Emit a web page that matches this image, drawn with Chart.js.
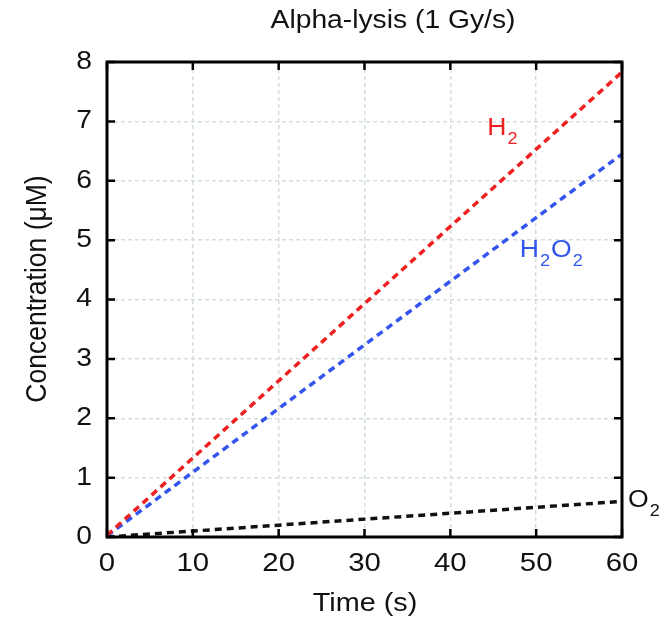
<!DOCTYPE html>
<html>
<head>
<meta charset="utf-8">
<script src="https://cdn.jsdelivr.net/npm/chart.js@4"></script>
<style>
  html, body { margin: 0; padding: 0; background: #fff; }
  #wrap { width: 662px; height: 618px; }
</style>
</head>
<body>
<div id="wrap"><canvas id="chart" width="662" height="618"></canvas></div>
<script>
// --- Data ---
const titleText = 'Alpha-lysis (1 Gy/s)';
const xTitle = 'Time (s)';
const yTitle = 'Concentration (\u03BCM)';
const timeSec = [0, 60];
const h2Values = [0.03, 7.83];
const h2o2Values = [0.02, 6.45];
const o2Values = [0, 0.6];
const xTicks = [0, 10, 20, 30, 40, 50, 60];
const yTicks = [0, 1, 2, 3, 4, 5, 6, 7, 8];

// labels on the plot: [main, sub, main, sub...], position in data units
const seriesLabels = [
  { parts: ['H', '2'], x: 44.3, y: 6.88, color: '#ee2020' },
  { parts: ['H', '2', 'O', '2'], x: 48.1, y: 4.83, color: '#3355ee' },
  { parts: ['O', '2'], x: 60.7, y: 0.62, color: '#111111' }
];

const FONT = "'Liberation Sans', Arial, Helvetica, sans-serif";
const STRETCH = 1.13; // text in the source figure is a bit wide

function toPoints(values) {
  return timeSec.map((t, i) => ({ x: t, y: values[i] }));
}

// draw text widened horizontally, anchored at (x, y)
function wideText(ctx, text, x, y, size, align, rot) {
  ctx.save();
  ctx.translate(x, y);
  if (rot) ctx.rotate(rot);
  ctx.scale(rot ? 1 : STRETCH, rot ? STRETCH : 1);
  ctx.font = size + 'px ' + FONT;
  ctx.textAlign = align;
  ctx.textBaseline = 'middle';
  ctx.fillText(text, 0, 0);
  ctx.restore();
}

// --- Plugin: frame, inward ticks, texts, subscript labels ---
const decorations = {
  id: 'decorations',
  afterDraw(chart) {
    const ctx = chart.ctx;
    const xs = chart.scales.x;
    const ys = chart.scales.y;
    const a = chart.chartArea;
    const tick = 8;

    ctx.save();
    ctx.strokeStyle = '#000';
    ctx.lineWidth = 3;
    ctx.strokeRect(a.left, a.top, a.right - a.left, a.bottom - a.top);

    ctx.lineWidth = 2.5;
    ctx.beginPath();
    xTicks.forEach(v => {
      const px = xs.getPixelForValue(v);
      ctx.moveTo(px, a.bottom); ctx.lineTo(px, a.bottom - tick);
      ctx.moveTo(px, a.top); ctx.lineTo(px, a.top + tick);
    });
    yTicks.forEach(v => {
      const py = ys.getPixelForValue(v);
      ctx.moveTo(a.left, py); ctx.lineTo(a.left + tick, py);
      ctx.moveTo(a.right, py); ctx.lineTo(a.right - tick, py);
    });
    ctx.stroke();

    ctx.fillStyle = '#111';
    // tick labels
    xTicks.forEach(v => wideText(ctx, String(v), xs.getPixelForValue(v), a.bottom + 27, 26, 'center'));
    yTicks.forEach(v => wideText(ctx, String(v), a.left - 15, ys.getPixelForValue(v), 25, 'right'));

    // titles
    wideText(ctx, titleText, 393, 21, 25, 'center');
    wideText(ctx, xTitle, 365, 604, 25.5, 'center');
    wideText(ctx, yTitle, 38, 289, 26.5, 'center', -Math.PI / 2);

    // series labels with subscripts
    seriesLabels.forEach(lab => {
      let px = xs.getPixelForValue(lab.x);
      const py = ys.getPixelForValue(lab.y);
      ctx.fillStyle = lab.color;
      lab.parts.forEach((p, i) => {
        const isSub = i % 2 === 1;
        const size = isSub ? 16 : 23.5;
        wideText(ctx, p, px + (isSub ? 1 : 0), py + (isSub ? 11 : 0), size, 'left');
        ctx.font = size + 'px ' + FONT;
        px += ctx.measureText(p).width * STRETCH + (isSub ? 2 : 0);
      });
    });
    ctx.restore();
  }
};

const gridStyle = {
  color: '#d4dfdb',
  lineWidth: 1.5,
  drawTicks: false
};

new Chart(document.getElementById('chart').getContext('2d'), {
  type: 'line',
  data: {
    datasets: [
      { label: 'H2', data: toPoints(h2Values), borderColor: '#ee2020' },
      { label: 'H2O2', data: toPoints(h2o2Values), borderColor: '#3355ee' },
      { label: 'O2', data: toPoints(o2Values), borderColor: '#111111' }
    ].map(d => Object.assign(d, {
      borderWidth: 3.5,
      borderDash: [7, 5],
      pointRadius: 0,
      fill: false,
      tension: 0
    }))
  },
  options: {
    responsive: false,
    animation: false,
    layout: { padding: { top: 62, right: 40, left: 0, bottom: 0 } },
    plugins: {
      legend: { display: false },
      tooltip: { enabled: false },
      title: { display: false }
    },
    scales: {
      x: {
        type: 'linear',
        min: 0,
        max: 60,
        afterBuildTicks: s => { s.ticks = xTicks.map(v => ({ value: v })); },
        afterFit: s => { s.height = 81; },
        grid: gridStyle,
        border: { display: false, dash: [4, 3] },
        ticks: { display: false }
      },
      y: {
        min: 0,
        max: 8,
        afterBuildTicks: s => { s.ticks = yTicks.map(v => ({ value: v })); },
        afterFit: s => { s.width = 107; },
        grid: gridStyle,
        border: { display: false, dash: [4, 3] },
        ticks: { display: false }
      }
    }
  },
  plugins: [decorations]
});
</script>
</body>
</html>
